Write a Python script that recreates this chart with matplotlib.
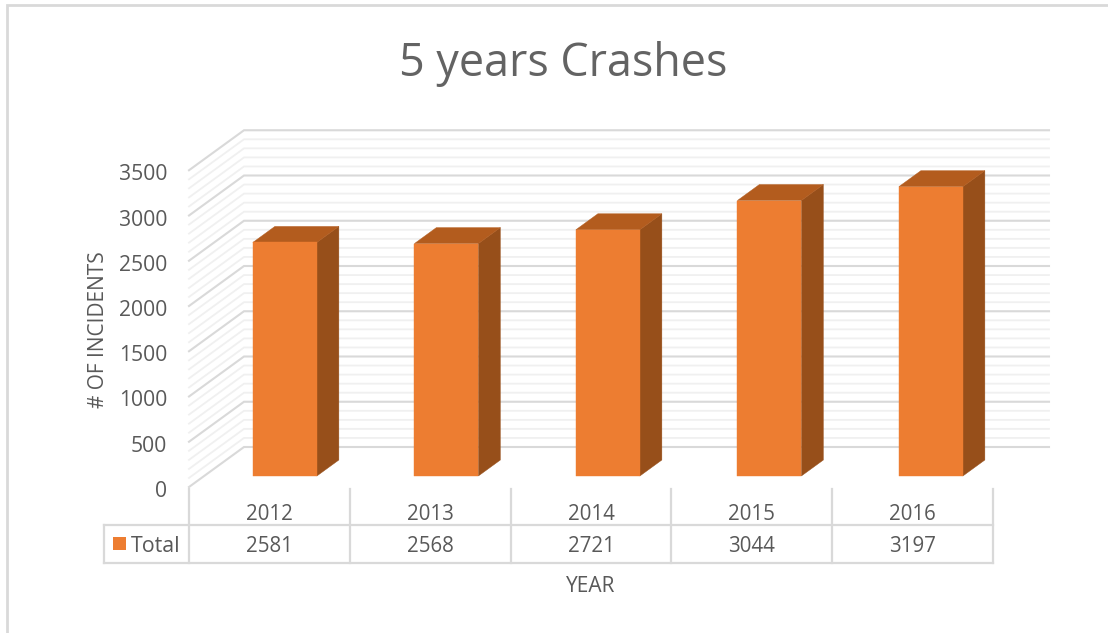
import matplotlib.pyplot as plt
from matplotlib.patches import Polygon, Rectangle

years = ['2012', '2013', '2014', '2015', '2016']
totals = [2581, 2568, 2721, 3044, 3197]
y_ticks = [0, 500, 1000, 1500, 2000, 2500, 3000, 3500]
minor_ticks = [v for v in range(0, 3501, 100) if v % 500 != 0]

plt.rcParams['font.family'] = ['Open Sans', 'DejaVu Sans']

ORANGE = '#ed7d31'
TOP = '#b35c1e'
SIDE = '#974f1a'
TEXT = '#595959'
MAJOR = '#d9d9d9'
MINOR = '#f0f0f0'

W, H = 1108, 633
fig = plt.figure(figsize=(W / 100, H / 100), dpi=100, facecolor='white')

# chart axes: x in categories, y in values
cat_w = 161.5
scale = 0.0905  # pixels per unit
ax = fig.add_axes([0, 0, 1, 1])
ax.set_xlim(-0.5 - 189 / cat_w, -0.5 + (W - 189) / cat_w)
ax.set_ylim(-(H - 487) / scale, 487 / scale)
ax.axis('off')

# depth offset (0 = front, 1 = back)
depth_x = 55 / cat_w
depth_y = 40 / scale


def pt(cat, val, d):
    return (cat + d * depth_x, val + d * depth_y)


# grid: light lines first, then major lines
for vals, col, lw in [(minor_ticks, MINOR, 1.3), (y_ticks, MAJOR, 1.5)]:
    for v in vals:
        a = pt(-0.5, v, 0)
        b = pt(-0.5, v, 1)
        c = pt(4.5, v, 1)
        c = (c[0] - 2.5 / cat_w, c[1])
        ax.plot([a[0], b[0], c[0]], [a[1], b[1], c[1]], color=col, lw=lw, zorder=1,
                solid_joinstyle='miter')

# 3D bars
half = 32 / cat_w
d0, d1 = 0.275, 0.675
for i, v in enumerate(totals):
    l, r = i - half, i + half
    ax.add_patch(Polygon([pt(r, 0, d0), pt(r, 0, d1), pt(r, v, d1), pt(r, v, d0)],
                         facecolor=SIDE, edgecolor=SIDE, lw=0.3, zorder=3))
    ax.add_patch(Polygon([pt(l, v, d0), pt(r, v, d0), pt(r, v, d1), pt(l, v, d1)],
                         facecolor=TOP, edgecolor=TOP, lw=0.3, zorder=3))
    ax.add_patch(Polygon([pt(l, 0, d0), pt(r, 0, d0), pt(r, v, d0), pt(l, v, d0)],
                         facecolor=ORANGE, edgecolor=ORANGE, lw=0.3, zorder=4))

# y tick labels
for v in y_ticks:
    ax.text(-0.5 - 22 / cat_w, v - 4.5 / scale, str(v), ha='right', va='center',
            fontsize=15.2, color=TEXT, zorder=5)

# pixel layer: frame, table, titles
px = fig.add_axes([0, 0, 1, 1])
px.set_xlim(0, W)
px.set_ylim(H, 0)
px.axis('off')
px.patch.set_alpha(0)

px.plot([7, 7, W], [H, 5, 5], color=MAJOR, lw=2, zorder=1, solid_joinstyle='miter')

px.text(563.5, 64, '5 years Crashes', ha='center', va='center', fontsize=32.3, color='#636363')
px.text(98.5, 330, '# OF INCIDENTS', ha='center', va='center', rotation=90, fontsize=15, color=TEXT)
px.text(591, 587, 'YEAR', ha='center', va='center', fontsize=15, color=TEXT)

# data table
table_w = (993 - 189) / 5
edges = [189 + i * table_w for i in range(6)]
for e in edges:
    px.plot([e, e], [489, 563], color=MAJOR, lw=1.6, zorder=2)
px.plot([104, 104], [525, 563], color=MAJOR, lw=1.6, zorder=2)
px.plot([104, 993], [525, 525], color=MAJOR, lw=1.6, zorder=2)
px.plot([104, 993], [563, 563], color=MAJOR, lw=1.6, zorder=2)

px.add_patch(Rectangle((113, 537), 13, 13, facecolor=ORANGE, edgecolor='none'))
px.text(131, 546, 'Total', ha='left', va='center', fontsize=15.4, color=TEXT)
for i, (yr, v) in enumerate(zip(years, totals)):
    xc = (edges[i] + edges[i + 1]) / 2
    px.text(xc, 514, yr, ha='center', va='center', fontsize=14.8, color=TEXT)
    px.text(xc, 547, str(v), ha='center', va='center', fontsize=14.8, color=TEXT)

fig.savefig('out.png', dpi=100, facecolor='white')
